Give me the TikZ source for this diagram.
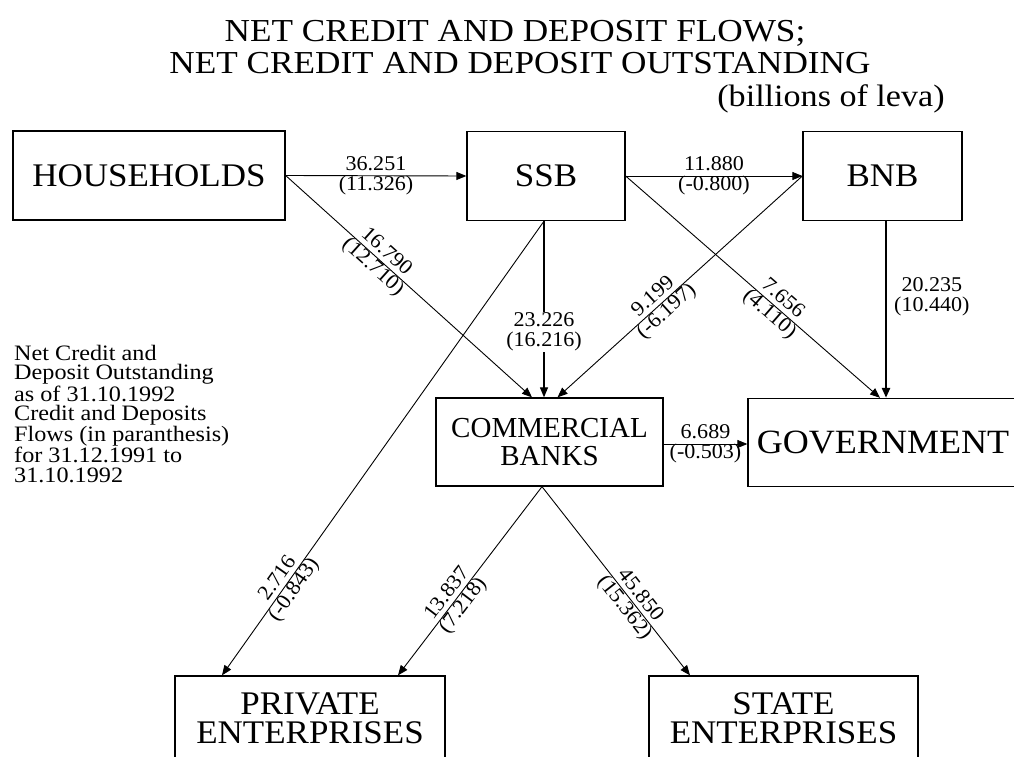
\documentclass[tikz,border=0pt]{standalone}
\usepackage{fontspec}
\setmainfont{Liberation Serif}
\newfontfamily\titlef[FakeStretch=1.1]{Liberation Serif}
\newfontfamily\boxf[FakeStretch=1.06]{Liberation Serif}
\newfontfamily\legf[FakeStretch=1.1]{Liberation Serif}
\newfontfamily\labf[FakeStretch=1.05]{Liberation Serif}
\usetikzlibrary{arrows.meta}
\begin{document}
\begin{tikzpicture}[x=1pt,y=-1pt,
  box/.style={draw, line width=1.3pt, inner sep=0pt, align=center, font=\boxf\fontsize{33}{29}\selectfont},
  flow/.style={line width=0.9pt, -{Triangle[length=10pt,width=8pt]}},
  lab/.style={font=\labf\fontsize{21}{20}\selectfont, align=center, inner sep=0pt},
  ttl/.style={font=\titlef\fontsize{32}{32}\selectfont, anchor=base, inner sep=0pt},
]
\useasboundingbox (0,0) rectangle (1014,757);
\clip (0,0) rectangle (1014,757);
\fill[white] (0,0) rectangle (1014,757);

% title
\node[ttl] (t1) at (515,42) {NET CREDIT AND DEPOSIT FLOWS;};
\node[ttl] (t2) at (520,74) {NET CREDIT AND DEPOSIT OUTSTANDING};
\node[ttl, font=\titlef\fontsize{31}{31}\selectfont] (unit) at (831,107) {(billions of leva)};

% boxes
\node[box, minimum width=272pt, minimum height=89pt] (hh) at (149,175.5) {HOUSEHOLDS};
\node[box, minimum width=158pt, minimum height=89pt] (ssb) at (546,176) {SSB};
\node[box, minimum width=159pt, minimum height=89pt] (bnb) at (882.5,176) {BNB};
\node[box, minimum width=227pt, minimum height=88pt, font=\fontsize{29}{28}\selectfont] (cb) at (549.5,442) {COMMERCIAL\\BANKS};
\node[box, minimum width=270pt, minimum height=88pt, font=\boxf\fontsize{34}{34}\selectfont] (gov) at (883,442.5) {GOVERNMENT};
\node[box, minimum width=270pt, minimum height=84pt] (priv) at (310,718) {PRIVATE\\ENTERPRISES};
\node[box, minimum width=269pt, minimum height=84pt] (state) at (783.5,718) {STATE\\ENTERPRISES};

% legend
\node[font=\legf\fontsize{22}{19.5}\selectfont, align=left, anchor=north west, inner sep=0pt] (leg) at (14,345)
  {Net Credit and\\Deposit Outstanding\\as of 31.10.1992\\Credit and Deposits\\Flows (in paranthesis)\\for 31.12.1991 to\\31.10.1992};

% connectors
\draw[flow] (hh.east) -- node[lab]{36.251\\(11.326)} (ssb.west);
\draw[flow] (ssb.east) -- node[lab]{11.880\\(-0.800)} (bnb.west);
\draw[flow] (hh.east) -- node[lab, sloped, pos=0.38]{16.790\\(12.710)} ([xshift=-17.5pt]cb.north);
\draw[flow, line width=1.2pt] ([xshift=-2pt]ssb.south) -- node[lab, fill=white, pos=0.63, inner sep=1pt]{23.226\\(16.216)} ([xshift=-5.5pt]cb.north);
\draw[flow] (bnb.west) -- node[lab, sloped, pos=0.58]{9.199\\(-6.197)} ([xshift=8pt]cb.north);
\draw[flow] (ssb.east) -- node[lab, sloped, pos=0.59]{7.656\\(4.110)} ([xshift=-3pt]gov.north);
\draw[flow, line width=2.4pt] ([xshift=3.5pt]bnb.south) -- node[lab, anchor=west, xshift=7pt, pos=0.43]{20.235\\(10.440)} ([xshift=3pt]gov.north);
\draw[flow] ([xshift=-2pt]ssb.south) -- node[lab, sloped, pos=0.80]{2.716\\(-0.843)} ([xshift=-88pt]priv.north);
\draw[flow] ([xshift=-7.5pt]cb.south) -- node[lab, sloped, pos=0.6]{13.837\\(7.218)} ([xshift=88pt]priv.north);
\draw[flow] ([xshift=-7.5pt]cb.south) -- node[lab, sloped, pos=0.61]{45.850\\(15.362)} ([xshift=-93.5pt]state.north);
\draw[flow] ([yshift=-2pt]cb.east) -- node[lab]{6.689\\(-0.503)} ([yshift=-2pt]cb.east -| gov.west);
\end{tikzpicture}
\end{document}
